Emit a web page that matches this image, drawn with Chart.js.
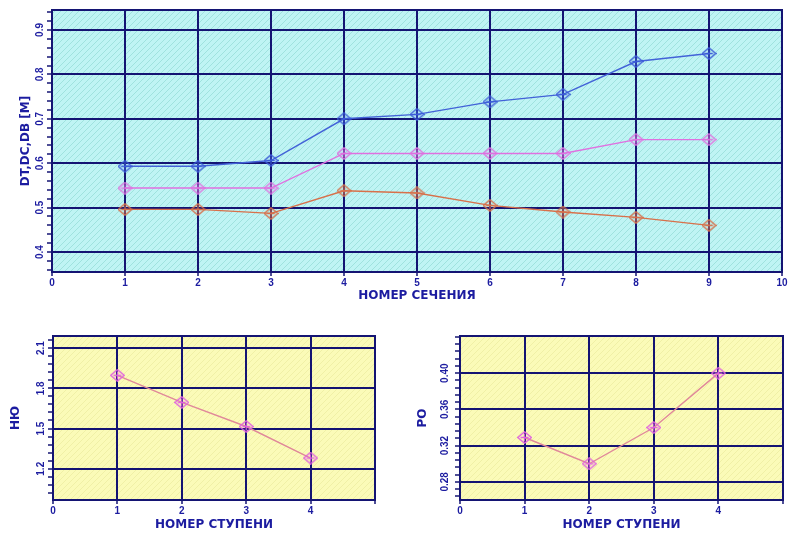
<!DOCTYPE html>
<html><head><meta charset="utf-8">
<script src="https://cdn.jsdelivr.net/npm/chart.js@4"></script>
<style>
body{margin:0;background:#fff;width:793px;height:539px;overflow:hidden;position:relative}
.c{position:absolute}
</style></head><body>
<div class="c" style="left:0;top:0;width:793px;height:303px"><canvas id="top"></canvas></div>
<div class="c" style="left:0;top:318px;width:396px;height:214px"><canvas id="bl"></canvas></div>
<div class="c" style="left:396px;top:318px;width:397px;height:214px"><canvas id="br"></canvas></div>
<script>
// ---- data ----
const sections = [1,2,3,4,5,6,7,8,9];
const seriesDT = [0.593,0.593,0.606,0.700,0.710,0.738,0.755,0.829,0.847];
const seriesDC = [0.544,0.544,0.544,0.622,0.622,0.622,0.622,0.653,0.653];
const seriesDB = [0.496,0.496,0.487,0.538,0.533,0.505,0.490,0.478,0.460];
const topXTicks = [0,1,2,3,4,5,6,7,8,9,10];
const topYLabels = [0.4,0.5,0.6,0.7,0.8,0.9];
const topYTicks = [0.36,0.38,0.40,0.42,0.44,0.46,0.48,0.50,0.52,0.54,0.56,0.58,0.60,0.62,0.64,0.66,0.68,0.70,0.72,0.74,0.76,0.78,0.80,0.82,0.84,0.86,0.88,0.90,0.92,0.94];

const stages = [1,2,3,4];
const nuValues = [1.897,1.695,1.515,1.280];
const rhoValues = [0.329,0.300,0.340,0.400];
const stageXTicks = [0,1,2,3,4,5];
const nuLabels = [1.2,1.5,1.8,2.1];
const nuTicks = [1.02,1.08,1.14,1.20,1.26,1.32,1.38,1.44,1.50,1.56,1.62,1.68,1.74,1.80,1.86,1.92,1.98,2.04,2.10,2.16];
const rhoLabels = [0.28,0.32,0.36,0.40];
const rhoTicks = [0.264,0.272,0.280,0.288,0.296,0.304,0.312,0.320,0.328,0.336,0.344,0.352,0.360,0.368,0.376,0.384,0.392,0.400,0.408,0.416,0.424,0.432,0.440];

// ---- styles ----
const NAVY = '#141473';
const TXT = '#1c1ca0';
const tickFont = {family:'Liberation Sans', size:10, weight:'bold'};
const titleFont = {family:'DejaVu Sans', size:12, weight:'bold'};

function marker(color){
  const c=document.createElement('canvas');c.width=15;c.height=13;
  const g=c.getContext('2d');g.strokeStyle=color;g.lineWidth=1.3;
  g.beginPath();g.moveTo(7.5,0.7);g.lineTo(14.3,6.5);g.lineTo(7.5,12.3);g.lineTo(0.7,6.5);g.closePath();g.stroke();
  g.beginPath();g.moveTo(7.5,2.5);g.lineTo(7.5,10.5);g.moveTo(3.5,6.5);g.lineTo(11.5,6.5);g.stroke();
  return c;
}
function hatch(base,line){
  const n=6;
  const c=document.createElement('canvas');c.width=n;c.height=n;
  const g=c.getContext('2d');g.fillStyle=base;g.fillRect(0,0,n,n);
  g.strokeStyle=line;g.lineWidth=1;g.beginPath();
  g.moveTo(-1,n+1);g.lineTo(n+1,-1);g.stroke();
  return g.createPattern(c,'repeat');
}
function areaPlugin(pattern){
  return {
    id:'area',
    beforeDraw(ch){const a=ch.chartArea,x=ch.ctx;x.save();x.fillStyle=pattern;x.fillRect(a.left,a.top,a.right-a.left,a.bottom-a.top);x.restore();},
    afterDraw(ch){const a=ch.chartArea,x=ch.ctx;x.save();x.strokeStyle=NAVY;x.lineWidth=2;x.strokeRect(a.left,a.top,a.right-a.left,a.bottom-a.top);x.restore();}
  };
}
const isIn=(arr,v)=>arr.some(l=>Math.abs(l-v)<1e-9);

function xScale(min,max,ticks,hideLast,title,h){
  return {type:'linear',min,max,
    afterBuildTicks:s=>{s.ticks=ticks.map(v=>({value:v}));},
    afterFit:s=>{s.height=h;},
    grid:{color:NAVY,lineWidth:2,tickLength:4,tickWidth:1.5,tickColor:NAVY},
    border:{color:NAVY,width:2},
    ticks:{color:TXT,font:tickFont,padding:1,maxRotation:0,autoSkip:false,
      callback:v=>(hideLast && v===max)?'':String(v)},
    title:{display:true,text:title,color:TXT,font:titleFont,padding:0}};
}
function yScale(min,max,ticks,labels,dec,title,w){
  return {type:'linear',min,max,
    afterBuildTicks:s=>{s.ticks=ticks.map(v=>({value:v}));},
    afterFit:s=>{s.width=w;},
    grid:{color:c=>isIn(labels,c.tick.value)?NAVY:'rgba(0,0,0,0)',
          lineWidth:c=>isIn(labels,c.tick.value)?2:0,
          tickLength:5,tickWidth:1.5,tickColor:NAVY},
    border:{color:NAVY,width:2},
    ticks:{color:TXT,font:tickFont,padding:0,minRotation:90,maxRotation:90,crossAlign:'center',autoSkip:false,
      callback:v=>isIn(labels,v)?v.toFixed(dec):''},
    title:{display:true,text:title,color:TXT,font:titleFont,padding:0}};
}
function ds(data,xs,line,mk){
  return {data:xs.map((x,i)=>({x,y:data[i]})),borderColor:line,borderWidth:1.4,
    pointStyle:marker(mk),pointRadius:7,pointHoverRadius:7,fill:false,tension:0};
}
const common={responsive:true,maintainAspectRatio:false,animation:false,
  plugins:{legend:{display:false},tooltip:{enabled:false}},events:[]};

new Chart(document.getElementById('top'),{type:'line',
  data:{datasets:[
    ds(seriesDT,sections,'#4262d8','#3a5ad8'),
    ds(seriesDC,sections,'#e070e0','#e070e0'),
    ds(seriesDB,sections,'#d8704a','#d8704a')]},
  options:{...common,layout:{padding:{left:19,right:11,top:10,bottom:0}},
    scales:{x:xScale(0,10,topXTicks,false,'НОМЕР СЕЧЕНИЯ',31),
            y:yScale(0.355,0.945,topYTicks,topYLabels,1,'DT,DC,DB [M]',33)}},
  plugins:[areaPlugin(hatch('#bff4f4','#9fe2de'))]});

new Chart(document.getElementById('bl'),{type:'line',
  data:{datasets:[ds(nuValues,stages,'#e0889a','#e060e0')]},
  options:{...common,layout:{padding:{left:9,right:21,top:18,bottom:0}},
    scales:{x:xScale(0,5,stageXTicks,true,'НОМЕР СТУПЕНИ',32),
            y:yScale(0.967,2.19,nuTicks,nuLabels,1,'НЮ',44)}},
  plugins:[areaPlugin(hatch('#fbfbb8','#f0f0a6'))]});

new Chart(document.getElementById('br'),{type:'line',
  data:{datasets:[ds(rhoValues,stages,'#e0889a','#e060e0')]},
  options:{...common,layout:{padding:{left:20,right:10,top:18,bottom:0}},
    scales:{x:xScale(0,5,stageXTicks,true,'НОМЕР СТУПЕНИ',32),
            y:yScale(0.26,0.441,rhoTicks,rhoLabels,2,'РО',44)}},
  plugins:[areaPlugin(hatch('#fbfbb8','#f0f0a6'))]});
</script>
</body></html>
